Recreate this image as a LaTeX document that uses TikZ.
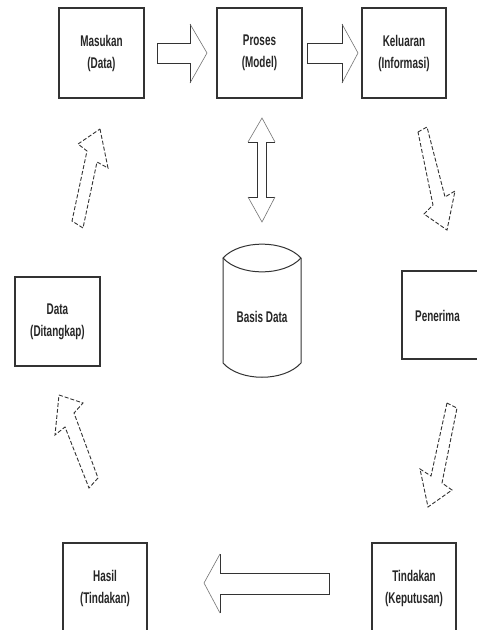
\documentclass[tikz,border=0pt]{standalone}
\usepackage{fontspec}
\setmainfont{Liberation Sans}[FakeStretch=0.64]
\begin{document}
\begin{tikzpicture}[x=1pt,y=-1pt,
  box/.style={draw=black!80,line width=1.1pt,fill=white,align=center,
    font=\fontsize{15.5}{22}\selectfont\bfseries,text=black!85,inner sep=0pt},
  lbl/.style={align=center,font=\fontsize{15.5}{22}\selectfont\bfseries,text=black!85,inner sep=0pt},
  shaftline/.style={draw=black!80,line width=1pt,line join=miter},
  headline/.style={draw=black!55,line width=0.6pt},
  dasharrow/.style={draw=black!80,line width=0.9pt,dash pattern=on 4pt off 2pt,line join=miter,fill=white}]
\useasboundingbox (0,0) rectangle (477,630);
\fill[white] (0,0) rectangle (477,630);

% boxes
\node[box,minimum width=85pt,minimum height=90pt] (masukan) at (101.5,53) {Masukan\\(Data)};
\node[box,minimum width=85pt,minimum height=90pt] (proses) at (259.5,53) {Proses\\(Model)};
\node[box,minimum width=84pt,minimum height=90pt] (keluaran) at (404,53) {Keluaran\\(Informasi)};
\node[box,minimum width=85pt,minimum height=89pt] (data) at (57.5,321.5) {Data\\(Ditangkap)};
\draw[draw=black!80,line width=1.1pt] (490,271) -- (402,271) -- (402,359) -- (490,359);
\node[lbl] (penerima) at (437.5,316) {Penerima};
\node[box,minimum width=84pt,minimum height=90pt] (hasil) at (105,588) {Hasil\\(Tindakan)};
\node[box,minimum width=84pt,minimum height=90pt] (tindakan) at (414,588) {Tindakan\\(Keputusan)};

% database cylinder
\draw[draw=black!80,line width=1pt]
  (223,258) .. controls (240,239.5) and (284,239.5) .. (301,258)
  .. controls (284,276.5) and (240,276.5) .. (223,258) -- cycle;
\draw[draw=black!80,line width=1pt]
  (223,258) -- (223,363) .. controls (240,382) and (284,382) .. (301,363) -- (301,258);
\node[lbl] (basis) at (262,317) {Basis Data};

% horizontal block arrows
\draw[shaftline] (190,24) -- (190,43) -- (157,43) -- (157,63) -- (190,63) -- (190,83);
\draw[headline] (190,24) -- (207,53) -- (190,83);
\draw[shaftline] (342,24) -- (342,43) -- (307,43) -- (307,63) -- (342,63) -- (342,83);
\draw[headline] (342,24) -- (358,53) -- (342,83);
\draw[shaftline] (220,554) -- (220,573) -- (329,573) -- (329,594) -- (220,594) -- (220,613);
\draw[headline] (220,554) -- (204,583) -- (220,613);

% double arrow
\draw[shaftline] (248,142) -- (257,142) -- (257,197) -- (248,197);
\draw[shaftline] (275,142) -- (266,142) -- (266,197) -- (275,197);
\draw[headline] (248,142) -- (262,118) -- (275,142);
\draw[headline] (248,197) -- (262,222) -- (275,197);

% dashed block arrows
\draw[dasharrow] (100,129) -- (108,168) -- (97,162) -- (83,228) -- (72,221) -- (87,151) -- (78,144) -- cycle;
\draw[dasharrow] (418,132) -- (427,127) -- (445,197) -- (455,191) -- (447,230) -- (424,214) -- (433,205) -- cycle;
\draw[dasharrow] (447,403) -- (457,408) -- (442,483) -- (452,490) -- (428,507) -- (420,469) -- (431,476) -- cycle;
\draw[dasharrow] (59,395) -- (83,403) -- (74,413) -- (98,478) -- (89,488) -- (65,427) -- (55,435) -- cycle;
\end{tikzpicture}
\end{document}
